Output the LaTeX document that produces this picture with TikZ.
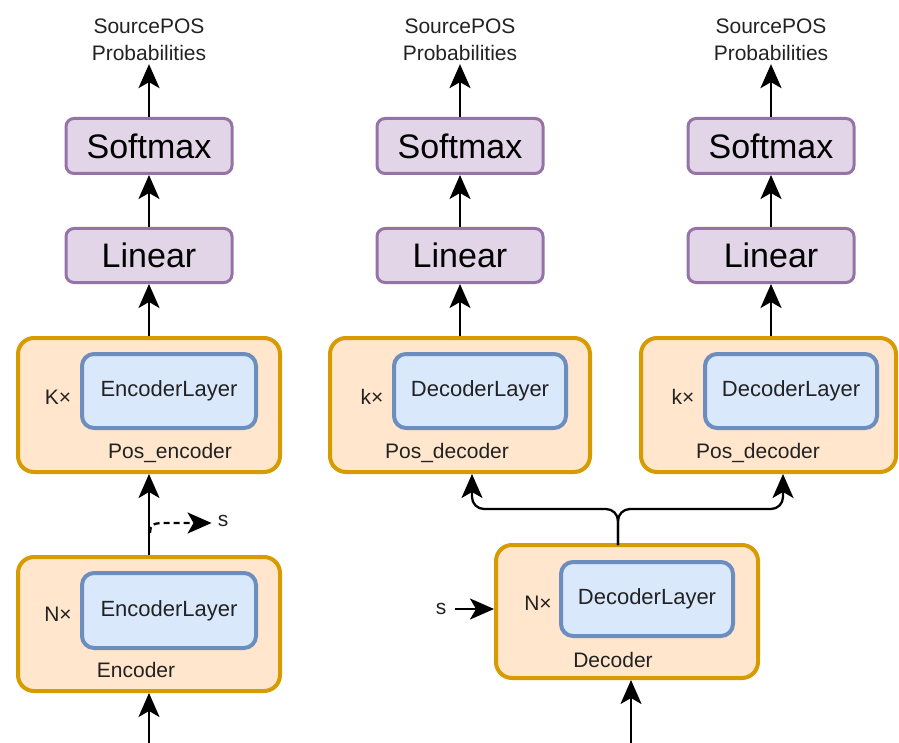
\documentclass[tikz,border=0pt]{standalone}
\usepackage{fontspec}
\setmainfont{Liberation Sans}
\usetikzlibrary{arrows.meta}
\definecolor{ofill}{HTML}{FFE6CC}
\definecolor{ostroke}{HTML}{D79B00}
\definecolor{bfill}{HTML}{DAE8FC}
\definecolor{bstroke}{HTML}{6C8EBF}
\definecolor{pfill}{HTML}{E1D5E7}
\definecolor{pstroke}{HTML}{9673A6}
\definecolor{textc}{HTML}{222222}
\begin{document}
\begin{tikzpicture}[x=1pt,y=-1pt,
  outerbox/.style={draw=ostroke, fill=ofill, line width=4pt, rounded corners=16pt, inner sep=0pt},
  innerbox/.style={draw=bstroke, fill=bfill, line width=4pt, rounded corners=12pt, inner sep=0pt, text=textc, font=\fontsize{22}{26}\selectfont},
  purplebox/.style={draw=pstroke, fill=pfill, line width=3pt, rounded corners=8pt, inner sep=0pt, minimum width=166pt, text=black, font=\fontsize{34}{40}\selectfont},
  txt/.style={font=\fontsize{21}{27}\selectfont, text=textc, inner sep=0pt, align=center},
  arr/.style={line width=2.3pt, -{Stealth[length=24pt,width=21pt,inset=6pt]}},
]
\useasboundingbox (0,0) rectangle (899,743);

% ---------- left column ----------
\node[txt] (out1) at (149,40) {SourcePOS\\Probabilities};
\node[purplebox, minimum height=55pt] (sm1) at (149,146) {Softmax};
\node[purplebox, minimum height=54pt] (lin1) at (149,255.5) {Linear};
\node[outerbox, minimum width=262pt, minimum height=134pt] (pe) at (149,405) {};
\node[innerbox, minimum width=174pt, minimum height=74pt] (pel) at (169,391) {EncoderLayer};
\node[txt] (kx1) at (58,397) {K×};
\node[txt] (pelab) at (170,453) {Pos\_encoder};

\node[outerbox, minimum width=262pt, minimum height=134pt] (enc) at (149,624) {};
\node[innerbox, minimum width=174pt, minimum height=75pt] (encl) at (169,610.5) {EncoderLayer};
\node[txt] (nx1) at (58,614) {N×};
\node[txt] (enclab) at (136,670) {Encoder};

\coordinate (encin) at (149,743);
\coordinate (dstart) at (150,533);
\node[txt] (s1) at (223,521) {s};

\draw[arr] (sm1.north) -- ([yshift=-3pt]out1.south);
\draw[arr] (lin1.north) -- (sm1.south);
\draw[arr] (pe.north) -- (lin1.south);
\draw[arr] (enc.north) -- (pe.south);
\draw[arr] (encin) -- (enc.south);
\draw[arr, dashed, dash pattern=on 6pt off 4pt] (dstart) .. controls (151,524) .. (162,523) -- ([xshift=-6pt]s1.west |- 0,523);

% ---------- middle column ----------
\node[txt] (out2) at (460,40) {SourcePOS\\Probabilities};
\node[purplebox, minimum height=55pt] (sm2) at (460,146) {Softmax};
\node[purplebox, minimum height=54pt] (lin2) at (460,255.5) {Linear};
\node[outerbox, minimum width=260pt, minimum height=134pt] (pd1) at (460,405) {};
\node[innerbox, minimum width=172pt, minimum height=74pt] (pd1l) at (480,391) {DecoderLayer};
\node[txt] (kx2) at (372,397) {k×};
\node[txt] (pd1lab) at (447,453) {Pos\_decoder};

\draw[arr] (sm2.north) -- ([yshift=-3pt]out2.south);
\draw[arr] (lin2.north) -- (sm2.south);
\draw[arr] (pd1.north) -- (lin2.south);

% ---------- right column ----------
\node[txt] (out3) at (771,40) {SourcePOS\\Probabilities};
\node[purplebox, minimum height=55pt] (sm3) at (771,146) {Softmax};
\node[purplebox, minimum height=54pt] (lin3) at (771,255.5) {Linear};
\node[outerbox, minimum width=255pt, minimum height=134pt] (pd2) at (768.5,405) {};
\node[innerbox, minimum width=172pt, minimum height=74pt] (pd2l) at (791,391) {DecoderLayer};
\node[txt] (kx3) at (683,397) {k×};
\node[txt] (pd2lab) at (758,453) {Pos\_decoder};

\draw[arr] (sm3.north) -- ([yshift=-3pt]out3.south);
\draw[arr] (lin3.north) -- (sm3.south);
\draw[arr] (pd2.north -| lin3.south) -- (lin3.south);

% ---------- decoder ----------
\node[outerbox, minimum width=262pt, minimum height=133pt] (dec) at (627,611.5) {};
\node[innerbox, minimum width=172pt, minimum height=74pt] (decl) at (647,599) {DecoderLayer};
\node[txt] (nx2) at (538,603) {N×};
\node[txt] (declab) at (613,660) {Decoder};
\node[txt] (s2) at (441,609) {s};
\coordinate (decin) at (631,743);
\coordinate (fork) at (618,545);

\draw[arr] (s2.east) ++(9pt,0) coordinate (s2a) -- (s2a -| dec.west);
\draw[arr] (decin) -- (decin |- dec.south);
\draw[arr, rounded corners=12pt] (fork) -- (618,509) -- (472,509) -- (472 ,0 |- pd1.south);
\draw[arr, rounded corners=12pt] (fork) -- (618,509) -- (783,509) -- (783 ,0 |- pd2.south);
\end{tikzpicture}
\end{document}
